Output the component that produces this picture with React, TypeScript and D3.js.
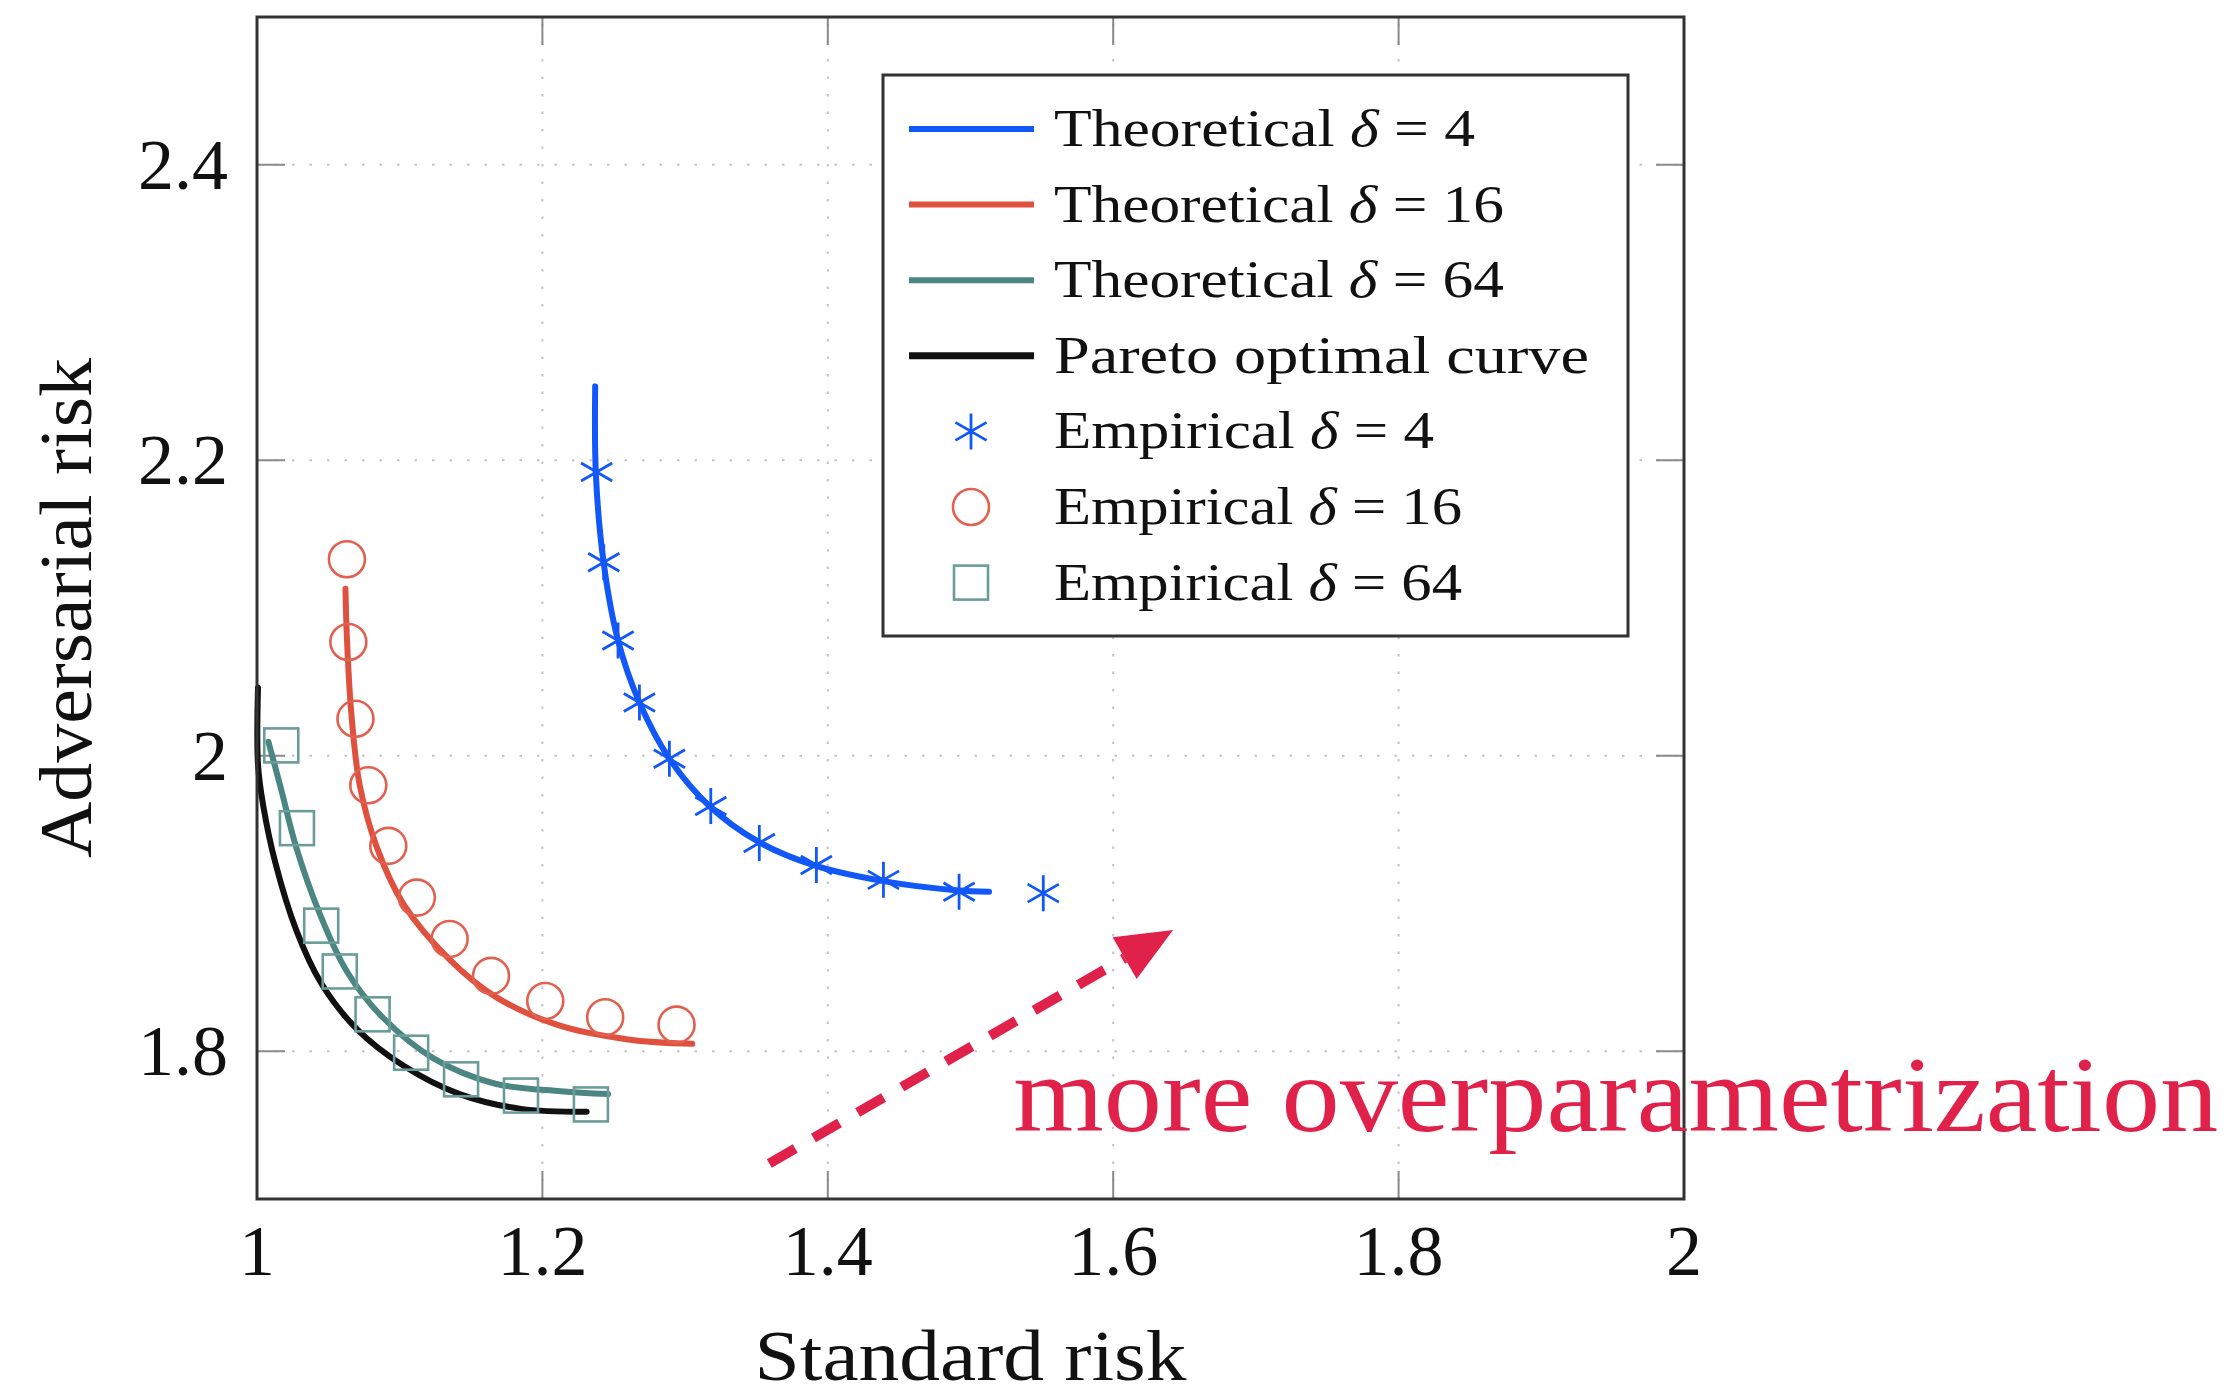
import { useMemo } from "react";
import * as d3 from "d3";

type Pt = [number, number];

// theoretical curves (standard risk, adversarial risk)
const theoryD4: Pt[] = [
  [1.237, 2.25], [1.2375, 2.19], [1.243, 2.13], [1.253, 2.078], [1.268, 2.036],
  [1.289, 1.998], [1.317, 1.966], [1.351, 1.942], [1.39, 1.926], [1.44, 1.915],
  [1.49, 1.909], [1.513, 1.908],
];
const theoryD16: Pt[] = [
  [1.062, 2.113], [1.063, 2.08], [1.066, 2.03], [1.072, 1.98], [1.084, 1.938],
  [1.103, 1.899], [1.135, 1.862], [1.167, 1.837], [1.21, 1.818], [1.26, 1.808],
  [1.305, 1.805],
];
const theoryD64: Pt[] = [
  [1.008, 2.0095], [1.017, 1.977], [1.0275, 1.938], [1.044, 1.893], [1.063, 1.854],
  [1.088, 1.823], [1.124, 1.795], [1.167, 1.778], [1.213, 1.773], [1.246, 1.771],
];
const pareto: Pt[] = [
  [1.0007, 2.046], [1.0007, 1.994], [1.0044, 1.966], [1.013, 1.927], [1.0275, 1.882],
  [1.045, 1.846], [1.07, 1.815], [1.103, 1.79], [1.142, 1.771], [1.185, 1.761],
  [1.231, 1.759],
];

// empirical points
const empD4: Pt[] = [
  [1.238, 2.192], [1.243, 2.131], [1.253, 2.078], [1.268, 2.036], [1.289, 1.998],
  [1.318, 1.966], [1.352, 1.941], [1.392, 1.926], [1.439, 1.916], [1.492, 1.908],
  [1.551, 1.907],
];
const empD16: Pt[] = [
  [1.063, 2.133], [1.064, 2.077], [1.069, 2.025], [1.078, 1.98], [1.092, 1.939],
  [1.112, 1.904], [1.135, 1.876], [1.164, 1.851], [1.202, 1.834], [1.244, 1.823],
  [1.294, 1.818],
];
const empD64: Pt[] = [
  [1.017, 2.007], [1.028, 1.951], [1.045, 1.885], [1.058, 1.854], [1.081, 1.825],
  [1.108, 1.799], [1.143, 1.781], [1.185, 1.77], [1.234, 1.764],
];

const xTicks = [1, 1.2, 1.4, 1.6, 1.8, 2];
const xTickLabels = ["1", "1.2", "1.4", "1.6", "1.8", "2"];
const yTicks = [1.8, 2, 2.2, 2.4];
const yTickLabels = ["1.8", "2", "2.2", "2.4"];

const legendLabels = [
  "Theoretical δ = 4",
  "Theoretical δ = 16",
  "Theoretical δ = 64",
  "Pareto optimal curve",
  "Empirical δ = 4",
  "Empirical δ = 16",
  "Empirical δ = 64",
];

// annotation arrow, in data units
const arrowFrom: Pt = [1.359, 1.724];
const arrowTo: Pt = [1.642, 1.882];
const noteAt: Pt = [1.53, 1.746];
const noteText = "more overparametrization";

const WIDTH = 2238;
const HEIGHT = 1398;
const MARGIN = { left: 257, top: 17, right: 554, bottom: 199 };

const BLUE = "#1257f8";
const RED = "#e0503e";
const TEAL = "#4c8683";
const BLACK = "#111111";
const CRIMSON = "#e0224b";
const FONT = "'Liberation Serif', 'Times New Roman', serif";

const legendWidths = [421, 450, 450, 535, 380, 408, 408];

const starPath = (r: number) => {
  const c = Math.cos(Math.PI / 6) * r;
  const s = Math.sin(Math.PI / 6) * r;
  return `M0,${-r}L0,${r}M${-c},${-s}L${c},${s}M${-c},${s}L${c},${-s}`;
};

const Label = ({ text }: { text: string }) => {
  const parts = text.split("δ");
  if (parts.length < 2) return <>{text}</>;
  return (
    <>
      <tspan>{parts[0]}</tspan>
      <tspan fontStyle="italic">δ</tspan>
      <tspan>{parts[1]}</tspan>
    </>
  );
};

const App = () => {
  const innerW = WIDTH - MARGIN.left - MARGIN.right;
  const innerH = HEIGHT - MARGIN.top - MARGIN.bottom;

  const x = useMemo(() => d3.scaleLinear().domain([1, 2]).range([MARGIN.left, MARGIN.left + innerW]), [innerW]);
  const y = useMemo(() => d3.scaleLinear().domain([1.7, 2.5]).range([MARGIN.top + innerH, MARGIN.top]), [innerH]);

  const line = d3
    .line<Pt>()
    .x((d) => x(d[0]))
    .y((d) => y(d[1]))
    .curve(d3.curveCatmullRom.alpha(0.5));

  const curves = [
    { data: theoryD4, color: BLUE },
    { data: theoryD16, color: RED },
    { data: theoryD64, color: TEAL },
    { data: pareto, color: BLACK },
  ];

  // arrow geometry
  const tail: Pt = [x(arrowFrom[0]), y(arrowFrom[1])];
  const tip: Pt = [x(arrowTo[0]), y(arrowTo[1])];
  const len = Math.hypot(tip[0] - tail[0], tip[1] - tail[1]);
  const ux = (tip[0] - tail[0]) / len;
  const uy = (tip[1] - tail[1]) / len;
  const headLen = 56;
  const headHalf = 24;
  const base: Pt = [tip[0] - ux * headLen, tip[1] - uy * headLen];
  const head = [
    tip,
    [base[0] - uy * headHalf, base[1] + ux * headHalf],
    [base[0] + uy * headHalf, base[1] - ux * headHalf],
  ];

  const legend = { x: 883, y: 75, w: 745, h: 561, row0: 129, step: 75.6 };

  return (
    <svg
      width={WIDTH}
      height={HEIGHT}
      style={{ position: "absolute", left: 0, top: 0, background: "#fff" }}
      fontFamily={FONT}
    >
      {/* grid */}
      <g stroke="#c4c4c4" strokeWidth={2} strokeDasharray="2.5 15">
        {xTicks.slice(1, -1).map((t) => (
          <line key={t} x1={x(t)} x2={x(t)} y1={y(1.7)} y2={y(2.5)} />
        ))}
        {yTicks.map((t) => (
          <line key={t} x1={x(1)} x2={x(2)} y1={y(t)} y2={y(t)} />
        ))}
      </g>
      {/* tick marks */}
      <g stroke="#8a8a8a" strokeWidth={2}>
        {xTicks.map((t) => (
          <g key={t}>
            <line x1={x(t)} x2={x(t)} y1={y(1.7)} y2={y(1.7) - 28} />
            <line x1={x(t)} x2={x(t)} y1={y(2.5)} y2={y(2.5) + 28} />
          </g>
        ))}
        {yTicks.map((t) => (
          <g key={t}>
            <line x1={x(1)} x2={x(1) + 28} y1={y(t)} y2={y(t)} />
            <line x1={x(2)} x2={x(2) - 28} y1={y(t)} y2={y(t)} />
          </g>
        ))}
      </g>

      {/* theoretical curves */}
      {curves.map((c, i) => (
        <path key={i} d={line(c.data) || undefined} fill="none" stroke={c.color} strokeWidth={6} strokeLinecap="round" />
      ))}

      {/* empirical markers */}
      {empD4.map((d, i) => (
        <path key={i} d={starPath(18)} transform={`translate(${x(d[0])},${y(d[1])})`} stroke={BLUE} strokeWidth={2.8} fill="none" />
      ))}
      {empD16.map((d, i) => (
        <circle key={i} cx={x(d[0])} cy={y(d[1])} r={18} stroke="#e2604f" strokeWidth={2.6} fill="none" />
      ))}
      {empD64.map((d, i) => (
        <rect key={i} x={x(d[0]) - 17} y={y(d[1]) - 17} width={34} height={34} stroke="#6a9c98" strokeWidth={2.6} fill="none" />
      ))}

      {/* frame */}
      <rect x={MARGIN.left} y={MARGIN.top} width={innerW} height={innerH} fill="none" stroke="#333" strokeWidth={3} />

      {/* tick labels */}
      {xTicks.map((t, i) => (
        <text key={t} x={x(t)} y={1275} textAnchor="middle" fontSize={72} fill="#111">
          {xTickLabels[i]}
        </text>
      ))}
      {yTicks.map((t, i) => (
        <text key={t} x={228} y={y(t) + 24} textAnchor="end" fontSize={72} fill="#111">
          {yTickLabels[i]}
        </text>
      ))}

      {/* axis titles */}
      <text x={(x(1) + x(2)) / 2} y={1380} textAnchor="middle" fontSize={72} fill="#111" textLength={432} lengthAdjust="spacingAndGlyphs">
        Standard risk
      </text>
      <text
        transform={`translate(91,${(y(1.7) + y(2.5)) / 2}) rotate(-90)`}
        textAnchor="middle"
        fontSize={74}
        fill="#111"
        textLength={500}
        lengthAdjust="spacingAndGlyphs"
      >
        Adversarial risk
      </text>

      {/* legend */}
      <rect x={legend.x} y={legend.y} width={legend.w} height={legend.h} fill="#fff" stroke="#333" strokeWidth={3} />
      {legendLabels.map((lab, i) => {
        const cy = legend.row0 + i * legend.step;
        let sym = null;
        if (i < 4) {
          const col = [BLUE, RED, TEAL, BLACK][i];
          sym = <line x1={909} x2={1034} y1={cy} y2={cy} stroke={col} strokeWidth={i === 3 ? 7 : 6} />;
        } else if (i === 4) {
          sym = <path d={starPath(18)} transform={`translate(971,${cy})`} stroke={BLUE} strokeWidth={2.8} fill="none" />;
        } else if (i === 5) {
          sym = <circle cx={971} cy={cy} r={18} stroke="#e2604f" strokeWidth={2.6} fill="none" />;
        } else {
          sym = <rect x={954} y={cy - 17} width={34} height={34} stroke="#6a9c98" strokeWidth={2.6} fill="none" />;
        }
        return (
          <g key={i}>
            {sym}
            <text x={1054} y={cy + 17} fontSize={52} fill="#111" textLength={legendWidths[i]} lengthAdjust="spacingAndGlyphs">
              <Label text={lab} />
            </text>
          </g>
        );
      })}

      {/* annotation */}
      <line
        x1={tail[0]}
        y1={tail[1]}
        x2={base[0]}
        y2={base[1]}
        stroke={CRIMSON}
        strokeWidth={10}
        strokeDasharray="30 21"
      />
      <polygon points={head.map((p) => p.join(",")).join(" ")} fill={CRIMSON} />
      <text
        x={x(noteAt[0])}
        y={y(noteAt[1])}
        fontSize={108}
        fill={CRIMSON}
        textLength={1205}
        lengthAdjust="spacingAndGlyphs"
      >
        {noteText}
      </text>
    </svg>
  );
};

export default App;
